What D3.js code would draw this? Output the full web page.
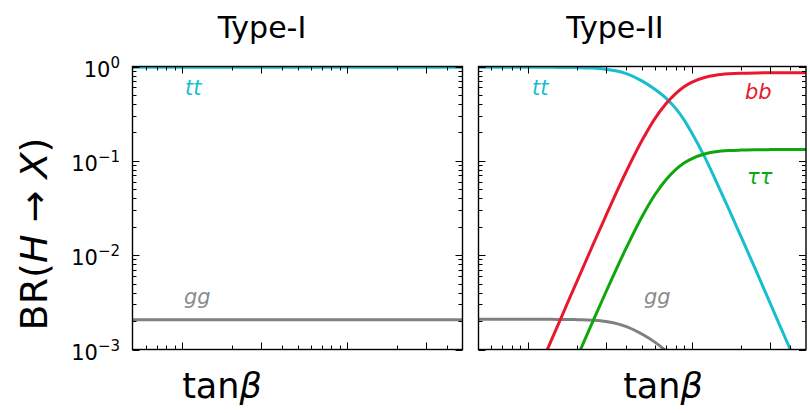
<!DOCTYPE html>
<html><head><meta charset="utf-8">
<script src="https://cdn.jsdelivr.net/npm/d3@7"></script>
<style>body{margin:0;background:#fff} text{font-family:"DejaVu Sans",sans-serif}</style>
</head><body><svg id="c" width="810" height="413"></svg>
<script>
// ---------- data ----------
const panelTitles = ["Type-I", "Type-II"];
const xTicksMajor = [1, 3, 10, 30];
const xTicksMinor = [0.6, 0.7, 0.8, 0.9, 2, 4, 5, 6, 7, 8, 9, 20, 40];
const yTicksMajor = [1e-3, 1e-2, 1e-1, 1];
const yTickExp = ["−3", "−2", "−1", "0"];

// Type-I
const tanb1 = [0.5, 1, 5, 10, 50];
const tt1 = [0.98, 0.98, 0.98, 0.98, 0.98];
const gg1 = [0.00207, 0.00207, 0.00207, 0.00207, 0.00207];

// Type-II
const tanb2 = [0.5,0.6,0.7,0.8,0.9,1,1.2,1.4,1.6,1.8,2,2.5,3,3.5,4,5,6,7,8,9,10,12,14,17,20,25,30,35,40,45,50];
const tt2 = [0.98,0.98,0.98,0.98,0.98,0.98,0.98,0.979,0.978,0.976,0.973,0.962,0.935,0.895,0.84,0.70,0.57,0.46,0.36,0.272,0.200,0.111,0.063,0.030,0.0159,0.0066,0.00318,0.00172,0.00101,0.00063,0.00041];
const bb2 = [null,null,null,null,null,null,6.9e-4,1.28e-3,2.18e-3,3.5e-3,5.3e-3,0.0129,0.0262,0.0474,0.0775,0.166,0.284,0.405,0.515,0.61,0.68,0.765,0.808,0.836,0.848,0.855,0.857,0.858,0.858,0.858,0.858];
const tau2 = [null,null,null,null,null,null,null,null,null,5.4e-4,8.25e-4,2.0e-3,4.07e-3,7.35e-3,0.0120,0.0259,0.0442,0.0635,0.0808,0.0948,0.105,0.118,0.1245,0.1285,0.130,0.131,0.1315,0.1318,0.1318,0.1318,0.1318];
const gg2 = [0.00209,0.00209,0.00209,0.00209,0.00209,0.00209,0.00209,0.00209,0.00208,0.00208,0.00207,0.00204,0.00198,0.00188,0.00175,0.00145,0.00119,0.00096,0.00075,null,null,null,null,null,null,null,null,null,null,null,null];

// ---------- layout ----------
const svg = d3.select("#c");
const yTop = 66.5, yBot = 349.5;
const panels = [
  {x0: 132.5, x1: 462.5, title: panelTitles[0], tx: 262, lx: 222,
   series: [{x: tanb1, y: tt1, c: "#17becf"}, {x: tanb1, y: gg1, c: "#808080"}],
   labels: [{t: "tt", x: 185, y: 95, c: "#17becf"}, {t: "gg", x: 184, y: 304, c: "#8a8a8a"}], ylabels: true},
  {x0: 478.5, x1: 806, title: panelTitles[1], tx: 615, lx: 663,
   series: [{x: tanb2, y: gg2, c: "#808080"}, {x: tanb2, y: tt2, c: "#17becf"},
            {x: tanb2, y: bb2, c: "#e8182e"}, {x: tanb2, y: tau2, c: "#0ea80e"}],
   labels: [{t: "tt", x: 532, y: 95, c: "#17becf"}, {t: "bb", x: 745, y: 99, c: "#e8182e"},
            {t: "ττ", x: 747, y: 184, c: "#0ea80e"}, {t: "gg", x: 644, y: 304, c: "#8a8a8a"}], ylabels: false}
];

const y = d3.scaleLog().domain([1e-3, 1]).range([yBot, yTop]);
const yMinor = [];
[1e-3, 1e-2, 1e-1].forEach(d => { for (let k = 2; k <= 9; k++) yMinor.push(d * k); });

panels.forEach((p, i) => {
  const x = d3.scaleLog().domain([0.5, 50]).range([p.x0, p.x1]);
  const g = svg.append("g");
  const cid = "clip" + i;
  svg.append("clipPath").attr("id", cid).append("rect")
    .attr("x", p.x0).attr("y", yTop).attr("width", p.x1 - p.x0).attr("height", yBot - yTop);

  const line = d3.line().defined(d => d[1] != null)
    .x(d => x(d[0])).y(d => y(d[1])).curve(d3.curveMonotoneX);
  p.series.forEach(s => {
    g.append("path").attr("clip-path", `url(#${cid})`)
      .datum(s.x.map((v, j) => [v, s.y[j]]))
      .attr("d", line).attr("fill", "none").attr("stroke", s.c).attr("stroke-width", 3);
  });

  // ticks (inward on all sides)
  const tk = g.append("g").attr("stroke", "#000").attr("stroke-width", 1);
  const xt = (vals, len) => vals.forEach(v => {
    const X = Math.round(x(v)) + 0.5;
    tk.append("line").attr("x1", X).attr("x2", X).attr("y1", yBot).attr("y2", yBot - len);
    tk.append("line").attr("x1", X).attr("x2", X).attr("y1", yTop).attr("y2", yTop + len);
  });
  xt(xTicksMajor, 7); xt(xTicksMinor, 4);
  const yt = (vals, len) => vals.forEach(v => {
    const Y = Math.round(y(v)) + 0.5;
    tk.append("line").attr("x1", p.x0).attr("x2", p.x0 + len).attr("y1", Y).attr("y2", Y);
    tk.append("line").attr("x1", p.x1).attr("x2", p.x1 - len).attr("y1", Y).attr("y2", Y);
  });
  yt(yTicksMajor, 7); yt(yMinor, 4);

  g.append("rect").attr("x", p.x0).attr("y", yTop).attr("width", p.x1 - p.x0).attr("height", yBot - yTop)
    .attr("fill", "none").attr("stroke", "#000").attr("stroke-width", 1.4);

  // curve labels
  p.labels.forEach(l => {
    g.append("text").attr("x", l.x).attr("y", l.y).attr("fill", l.c)
      .attr("font-size", 21).attr("font-style", "italic").text(l.t);
  });

  // title
  svg.append("text").attr("x", p.tx).attr("y", 38).attr("text-anchor", "middle")
    .attr("font-size", 30).text(p.title);
  // x label
  const xl = svg.append("text").attr("x", p.lx).attr("y", 398).attr("text-anchor", "middle").attr("font-size", 35);
  xl.append("tspan").text("tan");
  xl.append("tspan").attr("font-style", "italic").text("β");

  if (p.ylabels) {
    yTicksMajor.forEach((v, j) => {
      const t = svg.append("text").attr("x", 120).attr("y", y(v) + 10).attr("text-anchor", "end").attr("font-size", 21);
      t.append("tspan").text("10");
      t.append("tspan").attr("dy", -9).attr("font-size", 15).text(yTickExp[j]);
    });
  }
});

// y label
const yl = svg.append("text").attr("transform", "translate(47,234) rotate(-90)")
  .attr("text-anchor", "middle").attr("font-size", 38);
yl.append("tspan").text("BR(");
yl.append("tspan").attr("font-style", "italic").text("H");
yl.append("tspan").text(" → ");
yl.append("tspan").attr("font-style", "italic").text("X");
yl.append("tspan").text(")");
</script></body></html>
